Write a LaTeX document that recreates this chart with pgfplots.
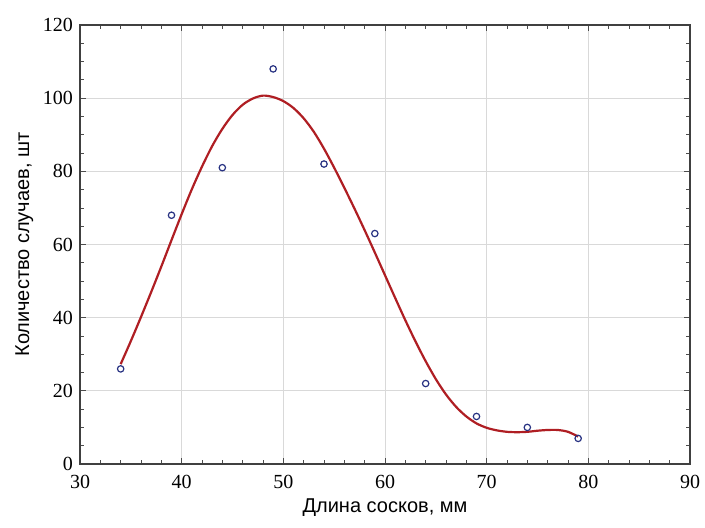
\documentclass[border=0pt]{standalone}
\usepackage{pgfplots}
\pgfplotsset{compat=1.18}
\usepackage{fontspec}
\setmainfont{Liberation Serif}
\newfontfamily\labfont{Liberation Sans}
\definecolor{curvered}{RGB}{175,30,35}
\definecolor{markblue}{RGB}{40,50,130}
\begin{document}
\begin{tikzpicture}
\path[use as bounding box] (-40pt,-31.5pt) rectangle (312.5pt,232pt);
\begin{axis}[
  at={(0,0)}, anchor=south west,
  scale only axis, width=305pt, height=219.5pt,
  xmin=30, xmax=90, ymin=0, ymax=120,
  xtick={30,40,...,90}, ytick={0,20,...,120},
  minor x tick num=4, minor y tick num=3,
  tick align=inside, tick pos=both,
  major tick length=3pt, minor tick length=1.8pt,
  every tick/.style={black!70},
  axis line style={black!75, line width=0.9pt},
  grid=major, major grid style={black!15, line width=0.5pt},
  /pgf/number format/assume math mode=true,
  ticklabel style={font=\fontsize{10}{12}\selectfont},
  xticklabel style={yshift=-2pt},
  xlabel={\labfont Длина сосков, мм},
  ylabel={\labfont Количество случаев, шт},
  label style={font=\fontsize{10}{12}\selectfont},
  xlabel style={yshift=2pt},
  ylabel style={yshift=-2pt},
]
\addplot[curvered, line width=1.1pt, smooth, tension=0.5] coordinates {
(34,27.3) (35,33.6) (36,40.2) (37,47) (38,54) (39,61.2) (40,68.3) (41,75.1)
(42,81.3) (43,86.9) (44,91.6) (45,95.4) (46,98.2) (47,99.9) (48,100.7)
(49,100.3) (50,99.2) (51,97.3) (52,94.5) (53,90.8) (54,86.2) (55,81)
(56,75.5) (57,69.8) (58,63.9) (59,57.8) (60,51.6) (61,45.4) (62,39.3) (63,33.5)
(64,28.1) (65,23.2) (66,19) (67,15.6) (68,13) (69,11.1) (70,9.9)
(71,9.2) (72,8.8) (73,8.7) (74,8.8) (75,9.1) (76,9.3) (77,9.3)
(78,8.8) (79,7.5)
};
\addplot[only marks, mark=o, mark size=1.6pt, markblue, mark options={line width=0.6pt}] coordinates {
(34,26) (39,68) (44,81) (49,108) (54,82) (59,63) (64,22) (69,13) (74,10) (79,7)
};
\end{axis}
\end{tikzpicture}
\end{document}
